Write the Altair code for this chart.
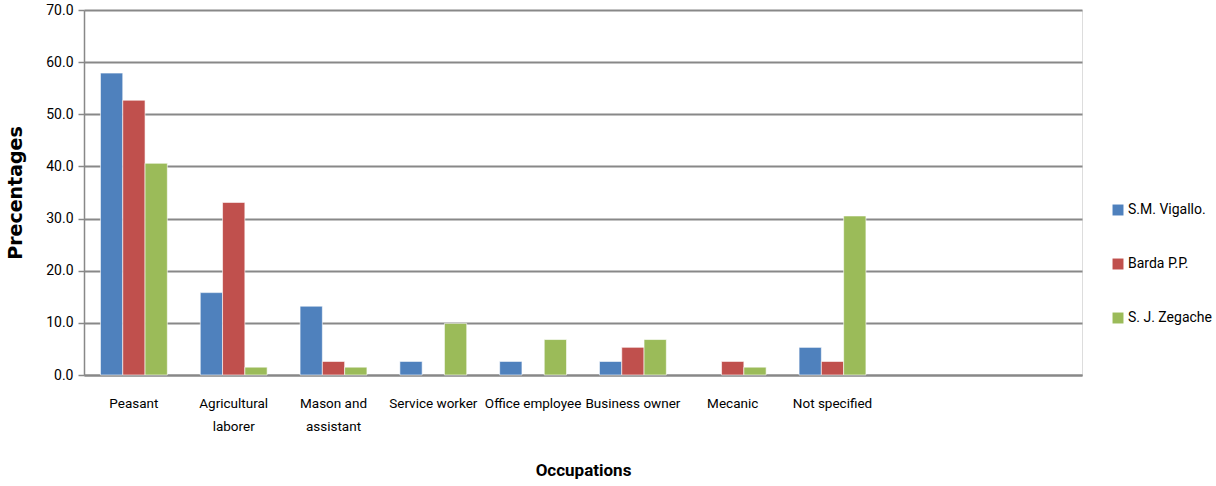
import altair as alt
import pandas as pd

categories = ["Peasant", "Agricultural|laborer", "Mason and|assistant", "Service worker",
              "Office employee", "Business owner", "Mecanic", "Not specified"]
empty_slots = ["_e1", "_e2"]
series = ["S.M. Vigallo.", "Barda P.P.", "S. J. Zegache"]
vigallo = [57.9, 15.8, 13.2, 2.6, 2.6, 2.6, 0.0, 5.3]
barda = [52.7, 33.1, 2.6, 0.0, 0.0, 5.3, 2.6, 2.6]
zegache = [40.6, 1.5, 1.5, 9.9, 6.8, 6.8, 1.5, 30.5]
colors = ["#4F81BD", "#C0504D", "#9BBB59"]
y_ticks = [0, 10, 20, 30, 40, 50, 60, 70]

rows = []
for s, vals in zip(series, [vigallo, barda, zegache]):
    for c, v in zip(categories, vals):
        if v > 0:
            rows.append({"cat": c, "series": s, "value": v})
df = pd.DataFrame(rows)

FONT = "Roboto"

chart = alt.Chart(df).mark_bar(stroke="#ffffff", strokeWidth=0.6).encode(
    x=alt.X("cat:N", sort=categories + empty_slots,
            scale=alt.Scale(domain=categories + empty_slots, paddingInner=0.33, paddingOuter=0.165),
            axis=alt.Axis(title="Occupations", labelAngle=0, ticks=False,
                          labelExpr="indexof(datum.label,'_e')==0 ? '' : split(datum.label,'|')",
                          labelFont=FONT, labelFontSize=13.5, labelColor="#000000",
                          labelPadding=21, labelLineHeight=23, labelBaseline="top",
                          domainColor="#888888", domainWidth=2,
                          titleFont=FONT, titleFontSize=17, titleFontWeight="bold",
                          titleColor="#000000", titleY=95, titleBaseline="middle")),
    xOffset=alt.XOffset("series:N", sort=series,
                        scale=alt.Scale(domain=series, paddingInner=0, paddingOuter=0)),
    y=alt.Y("value:Q", scale=alt.Scale(domain=[0, 70], nice=False),
            axis=alt.Axis(title="Precentages", values=y_ticks, format=".1f",
                          labelFont=FONT, labelFontSize=14, labelColor="#000000",
                          labelPadding=5, tickSize=6, tickColor="#888888", tickWidth=1.5,
                          domainColor="#888888", domainWidth=1.5,
                          gridColor="#888888", gridWidth=2,
                          titleFont="DejaVu Sans", titleFontSize=19, titleFontWeight="bold",
                          titleColor="#000000", titlePadding=20)),
    color=alt.Color("series:N", sort=series,
                    scale=alt.Scale(domain=series, range=colors),
                    legend=alt.Legend(title=None, orient="none", legendX=1027, legendY=193,
                                      symbolType="square", symbolSize=120, symbolStrokeWidth=0,
                                      labelFont=FONT, labelFontSize=14, labelColor="#000000",
                                      rowPadding=40, labelOffset=3)),
).properties(
    width=998, height=365,
    autosize=alt.AutoSizeParams(type="none"),
    padding={"left": 84, "top": 10, "right": 134, "bottom": 111},
).configure_view(stroke=None).configure(background="#ffffff")

chart.save("out.html", embed_options={"renderer": "svg", "actions": False})
